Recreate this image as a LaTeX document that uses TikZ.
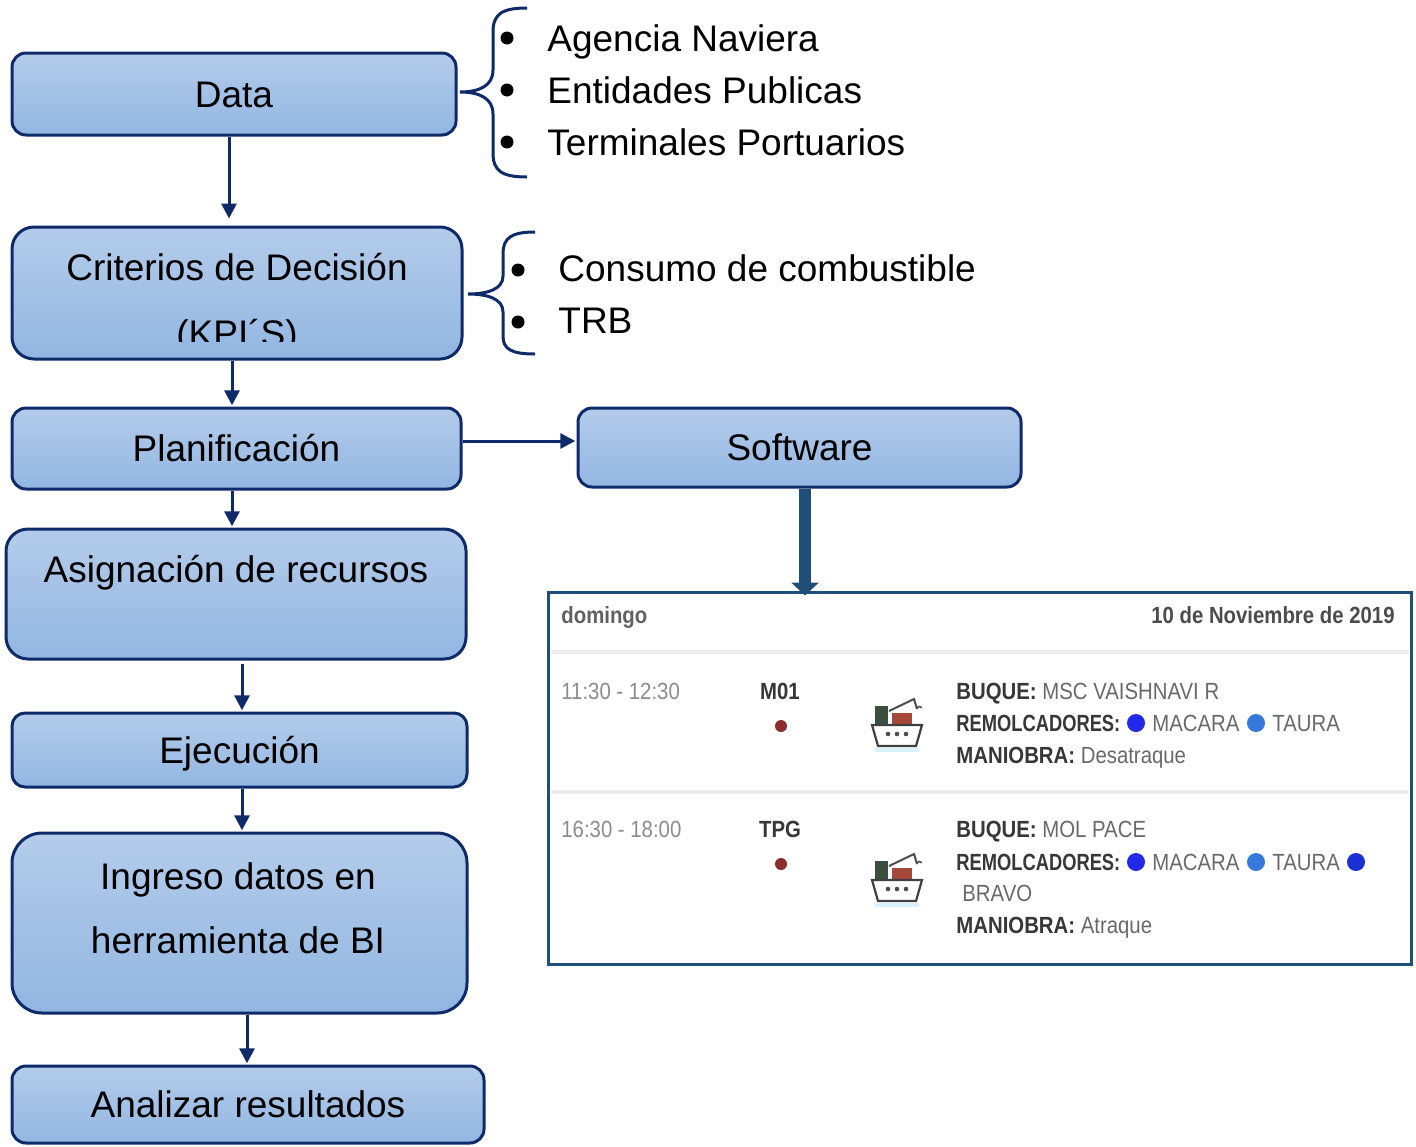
\documentclass[tikz,border=0pt]{standalone}
\usepackage{fontspec}
\setmainfont{Liberation Sans}
\newfontfamily\appfont[FakeStretch=0.87]{Liberation Sans}
\usetikzlibrary{arrows.meta,calc}
\definecolor{navy}{RGB}{14,42,105}
\definecolor{boxtop}{RGB}{180,204,234}
\definecolor{boxbot}{RGB}{146,182,226}
\definecolor{panelblue}{RGB}{31,78,121}
\definecolor{labc}{RGB}{55,55,55}
\definecolor{valc}{RGB}{105,105,105}
\definecolor{timec}{RGB}{140,140,140}
\definecolor{reddot}{RGB}{140,45,45}
\definecolor{blueA}{RGB}{35,41,232}
\definecolor{blueB}{RGB}{55,121,219}
\definecolor{blueC}{RGB}{27,47,214}
\definecolor{shipgreen}{RGB}{60,78,62}
\definecolor{shipred}{RGB}{165,72,58}
\begin{document}
\begin{tikzpicture}[x=0.5pt,y=-0.5pt,
  box/.style={draw=navy, line width=1.5pt, top color=boxtop, bottom color=boxbot,
    font=\fontsize{18.5}{22}\selectfont, text height=13.3pt, text depth=0pt, inner sep=0pt},
  txt/.style={font=\fontsize{18.5}{22}\selectfont, inner sep=0pt},
  arr/.style={draw=navy, line width=1.5pt, -{Triangle[width=7.5pt,length=7.5pt]}, shorten >=0.6pt},
  bigarr/.style={draw=panelblue, line width=6pt, -{Triangle[width=13.5pt,length=6.5pt]}},
  brace/.style={draw=navy, line width=1.5pt},
  bul/.style={fill=black},
  app/.style={font=\appfont\fontsize{11.7}{14}\selectfont, inner sep=0pt, anchor=base west},
  lab/.style={app, text=labc, font=\appfont\bfseries\fontsize{11.7}{14}\selectfont},
  val/.style={app, text=valc},
  ship/.pic={
    \draw[line width=1pt, black!70] (-8,-11) -- (17,-23) -- (20,-13);
    \draw[line width=0.8pt, black!70] (20,-13) arc (180:330:2.5);
    \fill[shipgreen] (-22,-16) rectangle (-9,2);
    \fill[shipred] (-5,-9) rectangle (15,3);
    \filldraw[fill=white, draw=black!75, line width=1.1pt] (-25,3) -- (25,3) -- (19,24) -- (-19,24) -- cycle;
    \fill[black!70] (-9,12) circle (2.3) (0,12) circle (2.3) (9,12) circle (2.3);
    \fill[cyan!15] (-22,26) rectangle (22,30);
  }]
\useasboundingbox (0,0) rectangle (1416,1146);

% ---- left flow boxes
\node[box, minimum width=222pt, minimum height=41pt, rounded corners=7pt] (data) at (234,94) {Data};
\node[box, minimum width=225pt, minimum height=66pt, rounded corners=11pt] (crit) at (237,293) {};
\node[txt, anchor=base] (critT) at (237,280) {Criterios de Decisión};
\begin{scope}
  \clip (20,300) rectangle (455,341.5);
  \node[txt, anchor=base] (kpi) at (237,346) {(KPI´S)};
\end{scope}
\node[box, minimum width=224.5pt, minimum height=40.5pt, rounded corners=7pt] (plan) at (236.5,448.5) {Planificación};
\node[box, minimum width=221.5pt, minimum height=39.5pt, rounded corners=7pt] (soft) at (799.5,447.5) {Software};
\node[box, minimum width=230pt, minimum height=65pt, rounded corners=11pt] (asig) at (236,594) {};
\node[txt, anchor=base] (asigT) at (236,582) {Asignación de recursos};
\node[box, minimum width=227.5pt, minimum height=37pt, rounded corners=6.5pt] (ejec) at (239.5,750) {Ejecución};
\node[box, minimum width=227.5pt, minimum height=90pt, rounded corners=15pt] (ingr) at (239.5,923) {};
\node[txt, anchor=base, align=center] (ingrA) at (238,889) {Ingreso datos en};
\node[txt, anchor=base, align=center] (ingrB) at (238,953) {herramienta de BI};
\node[box, minimum width=236pt, minimum height=38.5pt, rounded corners=7pt] (anal) at (248,1104.5) {Analizar resultados};

% ---- arrows
\coordinate (c1) at (229,0);
\coordinate (c2) at (232,0);
\coordinate (c3) at (232,0);
\coordinate (c4) at (242,0);
\coordinate (c5) at (242,0);
\coordinate (c6) at (247,0);
\coordinate (r1) at (0,441);
\draw[arr, shorten >=3.5pt] (data.south -| c1) -- (crit.north -| c1);
\draw[arr] (crit.south -| c2) -- (plan.north -| c2);
\draw[arr] (plan.south -| c3) -- (asig.north -| c3);
\draw[arr] ([yshift=-1.5pt]asig.south -| c4) -- (ejec.north -| c4);
\draw[arr] (ejec.south -| c5) -- (ingr.north -| c5);
\draw[arr] (ingr.south -| c6) -- (anal.north -| c6);
\draw[arr] (plan.east |- r1) -- (soft.west |- r1);

% ---- braces and lists
\draw[brace] (527,8) .. controls (502,8) and (493,14) .. (493,32) -- (493,70)
  .. controls (493,86) and (479,92) .. (460,92)
  .. controls (479,92) and (493,98) .. (493,114) -- (493,153)
  .. controls (493,171) and (502,177) .. (527,177);
\draw[brace] (535,232) .. controls (511,232) and (503,238) .. (503,254) -- (503,276)
  .. controls (503,289) and (488,294) .. (468,294)
  .. controls (488,294) and (503,299) .. (503,312) -- (503,336)
  .. controls (503,349) and (511,354) .. (535,354);
\fill[bul] (507,38) circle (6.5) (507,90) circle (6.5) (507,142) circle (6.5);
\fill[bul] (518,270) circle (6.5) (518,322) circle (6.5);
\node[txt, anchor=base west] (l1) at (547,51) {Agencia Naviera};
\node[txt, anchor=base west] (l2) at (547,103) {Entidades Publicas};
\node[txt, anchor=base west] (l3) at (547,155) {Terminales Portuarios};
\node[txt, anchor=base west] (l4) at (558,281) {Consumo de combustible};
\node[txt, anchor=base west] (l5) at (558,333) {TRB};

% ---- screenshot panel
\node[draw=panelblue, line width=1.5pt, fill=white, minimum width=431.5pt, minimum height=186pt, inner sep=0pt] (shot) at (979.5,778) {};
\coordinate (c7) at (805,0);
\draw[bigarr, shorten >=-2.5pt] (soft.south -| c7) -- (shot.north -| c7);
\draw[black!7, line width=2pt] (551,652) -- (1409,652);
\draw[black!7, line width=2pt] (551,792) -- (1409,792);

\node[lab, text=black!62] (dom) at (561,623) {domingo};
\node[lab, anchor=base east, text=black!70] (fecha) at (1395,623) {10 de Noviembre de 2019};

% row 1
\node[app, text=timec] (t1) at (561,699) {11:30 - 12:30};
\node[lab, anchor=base] (m01) at (780,699) {M01};
\fill[reddot] (781,726) circle (6);
\pic at (897,722) {ship};
\node[val] (b1) at (956,699) {\textcolor{labc}{\bfseries BUQUE:} MSC VAISHNAVI R};
\node[lab] (r1l) at (956,731) {\scalebox{0.9}[1]{REMOLCADORES:}};
\fill[blueA] (1136,723) circle (9);
\node[val] (r1a) at (1152,731) {MACARA};
\fill[blueB] (1256,723) circle (9);
\node[val] (r1b) at (1272,731) {TAURA};
\node[val] (m1) at (956,763) {\textcolor{labc}{\bfseries MANIOBRA:} Desatraque};

% row 2
\node[app, text=timec] (t2) at (561,837) {16:30 - 18:00};
\node[lab, anchor=base] (tpg) at (780,837) {TPG};
\fill[reddot] (781,864) circle (6);
\pic at (897,877) {ship};
\node[val] (b2) at (956,837) {\textcolor{labc}{\bfseries BUQUE:} MOL PACE};
\node[lab] (r2l) at (956,870) {\scalebox{0.9}[1]{REMOLCADORES:}};
\fill[blueA] (1136,862) circle (9);
\node[val] (r2a) at (1152,870) {MACARA};
\fill[blueB] (1256,862) circle (9);
\node[val] (r2b) at (1272,870) {TAURA};
\fill[blueC] (1356,862) circle (9);
\node[val] (r2c) at (962,901) {BRAVO};
\node[val] (m2) at (956,933) {\textcolor{labc}{\bfseries MANIOBRA:} Atraque};
\end{tikzpicture}
\end{document}
